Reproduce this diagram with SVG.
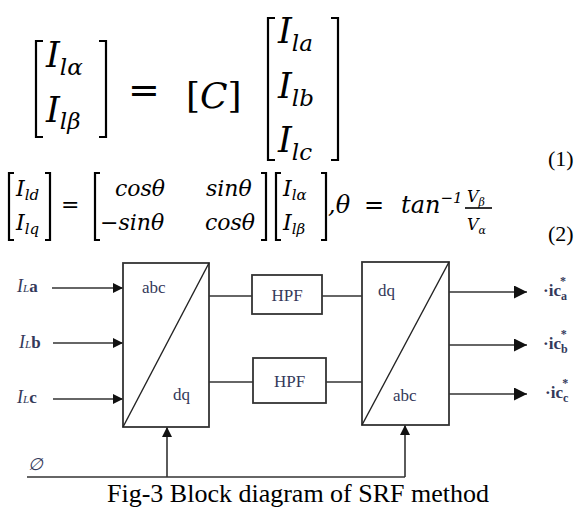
<svg xmlns="http://www.w3.org/2000/svg" width="585" height="507" viewBox="0 0 585 507">
<defs>
<style>
.m{font-family:"DejaVu Serif","Liberation Serif",serif;font-style:italic;fill:#000}
.n{font-family:"Liberation Serif","Times New Roman",serif;fill:#000}
.u{font-family:"DejaVu Serif","Liberation Serif",serif;fill:#000}
.br{fill:none;stroke:#000;stroke-width:2.2}
.box{fill:#fff;stroke:#333;stroke-width:1.8}
.ln{fill:none;stroke:#333;stroke-width:1.6}
.lbl{font-family:"Liberation Serif","Times New Roman",serif;fill:#34395a;font-size:17px}
</style>
<marker id="ahs" viewBox="0 0 10 10" refX="10" refY="5" markerWidth="10" markerHeight="10" markerUnits="userSpaceOnUse" orient="auto"><path d="M0,0 L10,5 L0,10 z" fill="#111"/></marker>
<marker id="ahl" viewBox="0 0 10 10" refX="10" refY="5" markerWidth="13" markerHeight="13" markerUnits="userSpaceOnUse" orient="auto"><path d="M0,0 L10,5 L0,10 z" fill="#111"/></marker>
</defs>
<rect width="585" height="507" fill="#fff"/>

<g id="equation1">
<path class="br" d="M43,41 H36 V137 H43"/>
<path class="br" d="M99,41 H106 V137 H99"/>
<text class="m" x="46" y="67" font-size="35">I<tspan font-size="23" dy="8">lα</tspan></text>
<text class="m" x="46" y="122" font-size="35">I<tspan font-size="23" dy="7">lβ</tspan></text>
<text class="u" x="128" y="103" font-size="38">=</text>
<text class="u" x="186" y="108" font-size="36">[<tspan class="m">C</tspan>]</text>
<path class="br" d="M275,18 H268 V160 H275"/>
<path class="br" d="M331,18 H338 V160 H331"/>
<text class="m" x="278" y="43" font-size="35">I<tspan font-size="23" dy="8">la</tspan></text>
<text class="m" x="278" y="98" font-size="35">I<tspan font-size="23" dy="8">lb</tspan></text>
<text class="m" x="278" y="152" font-size="35">I<tspan font-size="23" dy="8">lc</tspan></text>
<text class="n" x="548" y="166" font-size="22">(1)</text>
</g>

<g id="equation2">
<path class="br" d="M14,173 H9 V240 H14"/>
<path class="br" d="M45,173 H50 V240 H45"/>
<text class="m" x="16" y="196" font-size="22">I<tspan font-size="15" dy="4">ld</tspan></text>
<text class="m" x="16" y="230" font-size="22">I<tspan font-size="15" dy="4">lq</tspan></text>
<text class="u" x="61" y="212" font-size="22">=</text>
<path class="br" d="M100,173 H95 V240 H100"/>
<path class="br" d="M261,173 H266 V240 H261"/>
<text class="m" x="115" y="196" font-size="22">cosθ</text>
<text class="m" x="206" y="196" font-size="22">sinθ</text>
<text class="m" x="100" y="230" font-size="22">−sinθ</text>
<text class="m" x="205" y="230" font-size="22">cosθ</text>
<path class="br" d="M281,173 H276 V240 H281"/>
<path class="br" d="M321,173 H326 V240 H321"/>
<text class="m" x="283" y="196" font-size="22">I<tspan font-size="15" dy="4">lα</tspan></text>
<text class="m" x="283" y="230" font-size="22">I<tspan font-size="15" dy="4">lβ</tspan></text>
<text class="m" x="328" y="213" font-size="24">,θ</text>
<text class="u" x="364" y="213" font-size="24">=</text>
<text class="m" x="401" y="213" font-size="24">tan<tspan font-size="15" dy="-10">−1</tspan></text>
<text class="m" x="467" y="202" font-size="16">V<tspan font-size="11" dy="4">β</tspan></text>
<line x1="465" y1="208" x2="492" y2="208" stroke="#000" stroke-width="1.6"/>
<text class="m" x="467" y="230" font-size="16">V<tspan font-size="11" dy="4">α</tspan></text>
<text class="n" x="548" y="241" font-size="22">(2)</text>
</g>

<g id="connectors">
<line class="ln" x1="52" y1="288" x2="123" y2="288" marker-end="url(#ahs)"/>
<line class="ln" x1="53" y1="343" x2="123" y2="343" marker-end="url(#ahs)"/>
<line class="ln" x1="53" y1="399" x2="123" y2="399" marker-end="url(#ahs)"/>
<line class="ln" x1="209" y1="296" x2="252" y2="296"/>
<line class="ln" x1="209" y1="382" x2="253" y2="382"/>
<line class="ln" x1="322" y1="296" x2="362" y2="296"/>
<line class="ln" x1="326" y1="382" x2="362" y2="382"/>
<line class="ln" x1="449" y1="292" x2="527" y2="292" marker-end="url(#ahl)"/>
<line class="ln" x1="449" y1="345" x2="527" y2="345" marker-end="url(#ahl)"/>
<line class="ln" x1="449" y1="394" x2="527" y2="394" marker-end="url(#ahl)"/>
<polyline class="ln" points="27,477 405,477"/>
<line class="ln" x1="167" y1="477" x2="167" y2="427" marker-end="url(#ahs)"/>
<line class="ln" x1="405" y1="477" x2="405" y2="425" marker-end="url(#ahs)"/>
</g>

<g id="inputs">
<text class="lbl" x="17" y="292"><tspan font-style="italic" font-size="18">I</tspan><tspan font-style="italic" font-size="11">L</tspan><tspan font-weight="bold">a</tspan></text>
<text class="lbl" x="19" y="348"><tspan font-style="italic" font-size="18">I</tspan><tspan font-style="italic" font-size="11">L</tspan><tspan font-weight="bold">b</tspan></text>
<text class="lbl" x="17" y="403"><tspan font-style="italic" font-size="18">I</tspan><tspan font-style="italic" font-size="11">L</tspan><tspan font-weight="bold">c</tspan></text>
<text class="lbl" x="28" y="470" font-style="italic" font-size="15" fill="#666">∅</text>
</g>

<g id="abc-to-dq">
<rect class="box" x="123" y="263" width="86" height="164"/>
<line x1="123" y1="427" x2="209" y2="263" stroke="#222" stroke-width="1.4"/>
<text class="lbl" x="142" y="293">abc</text>
<text class="lbl" x="173" y="400">dq</text>
</g>

<g id="hpf1">
<rect class="box" x="252" y="275" width="70" height="39"/>
<text class="lbl" x="287" y="301" text-anchor="middle">HPF</text>
</g>
<g id="hpf2">
<rect class="box" x="253" y="358" width="73" height="45"/>
<text class="lbl" x="289.5" y="387" text-anchor="middle">HPF</text>
</g>

<g id="dq-to-abc">
<rect class="box" x="362" y="262" width="87" height="163"/>
<line x1="362" y1="425" x2="449" y2="262" stroke="#222" stroke-width="1.4"/>
<text class="lbl" x="378" y="296">dq</text>
<text class="lbl" x="393" y="401">abc</text>
</g>

<g id="outputs">
<text class="lbl" x="543" y="296" font-weight="bold">·ic<tspan font-size="12" dy="4">a</tspan><tspan font-size="12" dx="-7" dy="-15">*</tspan></text>
<text class="lbl" x="543" y="349" font-weight="bold">·ic<tspan font-size="12" dy="4">b</tspan><tspan font-size="12" dx="-7" dy="-15">*</tspan></text>
<text class="lbl" x="545" y="398" font-weight="bold">·ic<tspan font-size="12" dy="4">c</tspan><tspan font-size="12" dx="-6" dy="-15">*</tspan></text>
</g>

<text class="n" x="298" y="502" font-size="26" text-anchor="middle">Fig-3 Block diagram of SRF method</text>
</svg>
